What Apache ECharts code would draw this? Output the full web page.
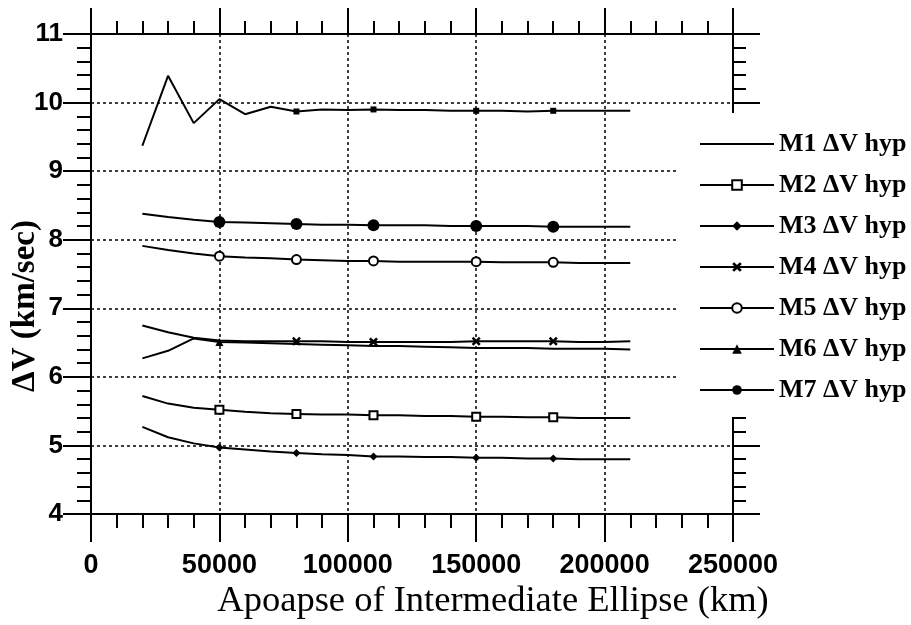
<!DOCTYPE html>
<html>
<head>
<meta charset="utf-8">
<script src="https://cdn.jsdelivr.net/npm/echarts@6/dist/echarts.min.js"></script>
<style>
html, body { margin: 0; background: #fff; }
#chart { width: 911px; height: 625px; }
</style>
</head>
<body>
<div id="chart"></div>
<script>
// apoapse of intermediate ellipse (km)
const apoapse = [20000, 30000, 40000, 50000, 60000, 70000, 80000, 90000, 100000, 110000,
    120000, 130000, 140000, 150000, 160000, 170000, 180000, 190000, 200000, 210000];

// delta-V hyp (km/sec)
const m1 = [9.37, 10.39, 9.70, 10.05, 9.83, 9.94, 9.87, 9.90, 9.89, 9.90,
    9.89, 9.89, 9.88, 9.88, 9.88, 9.87, 9.88, 9.88, 9.88, 9.88];
const m2 = [5.72, 5.61, 5.55, 5.52, 5.49, 5.47, 5.46, 5.45, 5.45, 5.44,
    5.44, 5.43, 5.43, 5.42, 5.42, 5.41, 5.41, 5.40, 5.40, 5.40];
const m3 = [5.27, 5.12, 5.03, 4.97, 4.94, 4.91, 4.89, 4.87, 4.86, 4.84,
    4.84, 4.83, 4.83, 4.82, 4.82, 4.81, 4.81, 4.80, 4.80, 4.80];
const m4 = [6.75, 6.65, 6.57, 6.53, 6.52, 6.52, 6.52, 6.52, 6.51, 6.51,
    6.51, 6.51, 6.51, 6.52, 6.52, 6.52, 6.52, 6.51, 6.51, 6.52];
const m5 = [7.91, 7.85, 7.80, 7.76, 7.74, 7.73, 7.71, 7.70, 7.69, 7.69,
    7.68, 7.68, 7.68, 7.68, 7.67, 7.67, 7.67, 7.66, 7.66, 7.66];
const m6 = [6.27, 6.38, 6.56, 6.51, 6.50, 6.49, 6.48, 6.47, 6.46, 6.45,
    6.45, 6.44, 6.43, 6.42, 6.42, 6.42, 6.41, 6.41, 6.41, 6.40];
const m7 = [8.38, 8.33, 8.29, 8.26, 8.25, 8.24, 8.23, 8.22, 8.22, 8.21,
    8.21, 8.21, 8.20, 8.20, 8.20, 8.20, 8.19, 8.19, 8.19, 8.19];

// x positions where the plotting program drew a marker
const marksA = [80000, 110000, 150000, 180000];
const marksB = [50000, 80000, 110000, 150000, 180000];
const marksC = [50000];

const names = ['M1 ΔV hyp', 'M2 ΔV hyp', 'M3 ΔV hyp', 'M4 ΔV hyp', 'M5 ΔV hyp', 'M6 ΔV hyp', 'M7 ΔV hyp'];

const crossPath = 'path://M0,2L2,0L5,3L8,0L10,2L7,5L10,8L8,10L5,7L2,10L0,8L3,5Z';

function makeSeries(name, values, symbol, size, marks) {
    return {
        name: name,
        type: 'line',
        data: apoapse.map((x, i) => {
            const item = { value: [x, values[i]] };
            if (marks.indexOf(x) < 0) item.symbol = 'none';
            return item;
        }),
        symbol: symbol,
        symbolSize: size,
        showAllSymbol: true,
        lineStyle: { color: '#000', width: 2 },
        itemStyle: { color: '#000', borderWidth: 1.5 },
        emphasis: { disabled: true },
        z: 3
    };
}

const serif = '"Liberation Serif", "Times New Roman", serif';
const sans = '"Liberation Sans", Arial, sans-serif';

const tickStyle = { color: '#000', width: 2 };
const plain = v => String(v);

const chart = echarts.init(document.getElementById('chart'));
chart.setOption({
    backgroundColor: '#fff',
    animation: false,
    grid: { left: 91, right: 178, top: 34, bottom: 111, outerBoundsMode: 'none', containLabel: false },
    legend: {
        orient: 'vertical',
        left: 679,
        top: 113,
        padding: [18, 6, 14, 20],
        backgroundColor: '#fff',
        itemWidth: 74,
        itemHeight: 12,
        itemGap: 15,
        selectedMode: false,
        textStyle: { fontFamily: serif, fontSize: 26, fontWeight: 'bold', color: '#000', lineHeight: 26 },
        data: [{ name: names[0], itemStyle: { opacity: 0 } }].concat(names.slice(1))
    },
    xAxis: [
        {
            type: 'value',
            min: 0,
            max: 250000,
            interval: 50000,
            name: 'Apoapse of Intermediate Ellipse (km)',
            nameLocation: 'middle',
            nameGap: 69,
            nameMoveOverlap: false,
            nameTextStyle: { fontFamily: serif, fontSize: 36.5, color: '#000', padding: [0, 0, 0, 162] },
            axisLine: { onZero: false, lineStyle: { color: '#000', width: 2 } },
            axisTick: { length: 28, lineStyle: tickStyle },
            minorTick: { show: true, splitNumber: 5, length: 14, lineStyle: tickStyle },
            axisLabel: { fontFamily: sans, fontSize: 27, fontWeight: 'bold', color: '#000', margin: 38, formatter: plain },
            splitLine: { show: true, lineStyle: { color: '#000', width: 1.5, type: [3, 3] } }
        },
        {
            type: 'value',
            position: 'top',
            min: 0,
            max: 250000,
            interval: 50000,
            axisLine: { onZero: false, lineStyle: { color: '#000', width: 2 } },
            axisTick: { length: 26, lineStyle: tickStyle },
            minorTick: { show: true, splitNumber: 5, length: 13, lineStyle: tickStyle },
            axisLabel: { show: false },
            splitLine: { show: false }
        }
    ],
    yAxis: [
        {
            type: 'value',
            min: 4,
            max: 11,
            interval: 1,
            name: 'ΔV (km/sec)',
            nameLocation: 'middle',
            nameGap: 49,
            nameMoveOverlap: false,
            nameTextStyle: { fontFamily: serif, fontSize: 33, fontWeight: 'bold', color: '#000', padding: [0, 64, 0, 0] },
            axisLine: { onZero: false, lineStyle: { color: '#000', width: 2 } },
            axisTick: { length: 28, lineStyle: tickStyle },
            minorTick: { show: true, splitNumber: 5, length: 14, lineStyle: tickStyle },
            axisLabel: { fontFamily: sans, fontSize: 26, fontWeight: 'bold', color: '#000', margin: 28 },
            splitLine: { show: true, lineStyle: { color: '#000', width: 1.5, type: [3, 3] } }
        },
        {
            type: 'value',
            position: 'right',
            min: 4,
            max: 11,
            interval: 1,
            axisLine: { onZero: false, lineStyle: { color: '#000', width: 2 } },
            axisTick: { length: 27, lineStyle: tickStyle },
            minorTick: { show: true, splitNumber: 5, length: 13, lineStyle: tickStyle },
            axisLabel: { show: false },
            splitLine: { show: false }
        }
    ],
    series: [
        makeSeries(names[0], m1, 'rect', 6, marksA),
        makeSeries(names[1], m2, 'emptyRect', 8, marksB),
        makeSeries(names[2], m3, 'diamond', 8, marksB),
        makeSeries(names[3], m4, crossPath, 9, marksA),
        makeSeries(names[4], m5, 'emptyCircle', 9, marksB),
        makeSeries(names[5], m6, 'triangle', 8, marksC),
        makeSeries(names[6], m7, 'circle', 12, marksB)
    ]
});
</script>
</body>
</html>
